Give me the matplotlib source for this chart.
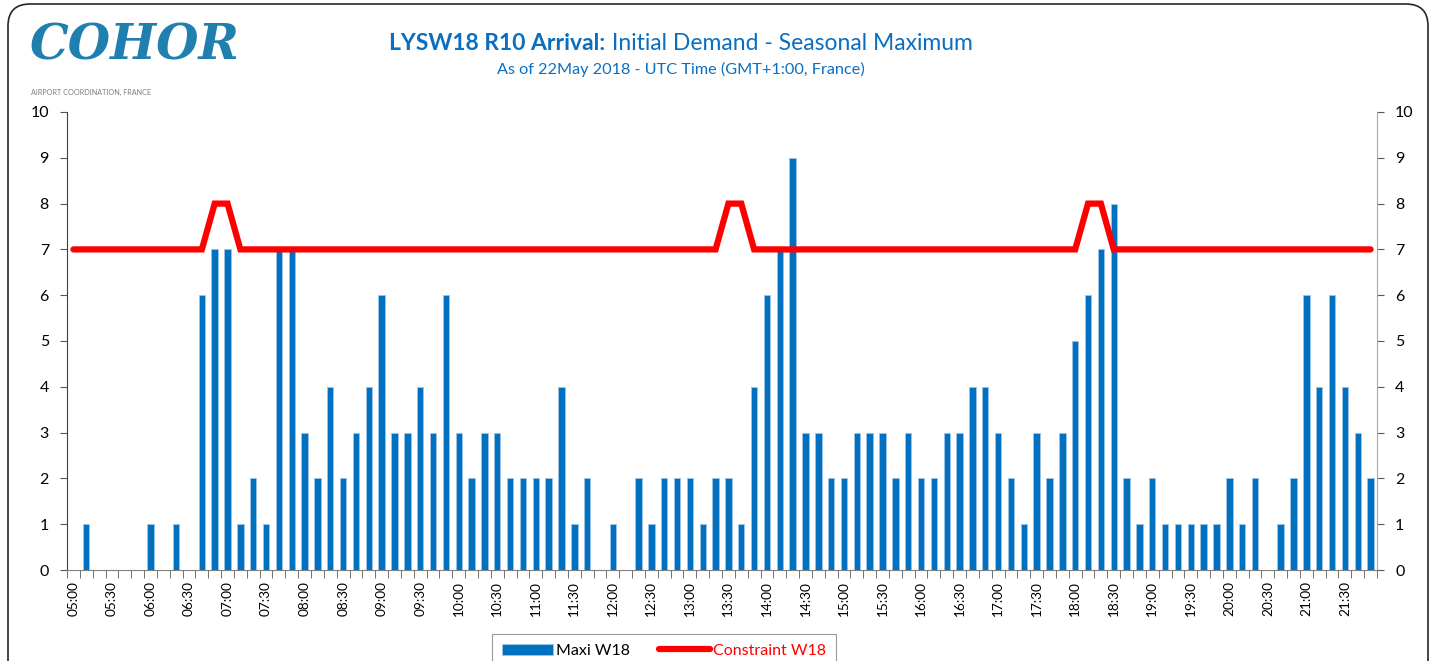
import numpy as np
import matplotlib
matplotlib.use('Agg')
import matplotlib.pyplot as plt
from matplotlib.patches import FancyBboxPatch
from matplotlib.transforms import IdentityTransform

plt.rcParams['font.family'] = ['Lato', 'DejaVu Sans']

# 10-minute slots 05:00 .. 21:50
slots = ['%02d:%02d' % (h, m) for h in range(5, 22) for m in range(0, 60, 10)]

maxi_w18 = [0, 1, 0, 0, 0, 0, 1, 0, 1, 0,
            6, 7, 7, 1, 2, 1, 7, 7, 3, 2,
            4, 2, 3, 4, 6, 3, 3, 4, 3, 6,
            3, 2, 3, 3, 2, 2, 2, 2, 4, 1,
            2, 0, 1, 0, 2, 1, 2, 2, 2, 1,
            2, 2, 1, 4, 6, 7, 9, 3, 3, 2,
            2, 3, 3, 3, 2, 3, 2, 2, 3, 3,
            4, 4, 3, 2, 1, 3, 2, 3, 5, 6,
            7, 8, 2, 1, 2, 1, 1, 1, 1, 1,
            2, 1, 2, 0, 1, 2, 6, 4, 6, 4,
            3, 2]

constraint_w18 = [7] * 102
for i in [11, 12, 51, 52, 79, 80]:
    constraint_w18[i] = 8

blue = '#0070C0'
title_blue = '#0B6FC1'

fig = plt.figure(figsize=(14.3, 6.61), dpi=100)
ax = fig.add_axes([67 / 1430, 1 - 570 / 661, 1310 / 1430, 458 / 661])

x = np.arange(len(slots))
bars = ax.bar(x, maxi_w18, width=0.5, color=blue, edgecolor='#9DC3E6', linewidth=0.6,
              label='Maxi W18', zorder=2)
line, = ax.plot(x, constraint_w18, color='#FF0000', lw=4.5, solid_capstyle='round',
                solid_joinstyle='miter', label='Constraint W18', zorder=3)

ax.set_xlim(-0.5, len(slots) - 0.5)
ax.set_ylim(0, 10)
ax.set_yticks(range(0, 11))
ax.tick_params(axis='y', which='both', left=True, right=True, labelleft=True,
               labelright=True, direction='out', length=5, labelsize=11.5,
               color='#595959', pad=8)

ax.set_xticks(x[::3])
ax.set_xticklabels(slots[::3], rotation=90, fontsize=9.8)
ax.set_xticks(np.arange(-0.5, len(slots), 1), minor=True)
ax.tick_params(axis='x', which='major', length=0, pad=8)
ax.tick_params(axis='x', which='minor', length=6, direction='out', color='#595959')

ax.spines['top'].set_visible(False)
ax.spines['left'].set_color('#404040')
ax.spines['right'].set_color('#A6A6A6')
ax.spines['bottom'].set_color('#808080')

# legend
leg = fig.legend([bars, line], ['Maxi W18', 'Constraint W18'],
                 loc='upper center', bbox_to_anchor=(664 / 1430, 1 - 626 / 661),
                 ncol=2, fontsize=11.5, frameon=True, fancybox=False,
                 edgecolor='#808080', handlelength=3.2, handletextpad=0.2,
                 columnspacing=1.8, borderpad=0.6)
leg.get_frame().set_linewidth(0.8)
leg.get_texts()[1].set_color('#FF0000')

# title: bold part + regular part, centred together
t1 = fig.text(0, 1 - 44 / 661, 'LYSW18 R10 Arrival:', fontsize=16.5,
              fontweight='bold', color=title_blue, va='center', ha='left')
t2 = fig.text(0, 1 - 44 / 661, ' Initial Demand - Seasonal Maximum',
              fontsize=16.5, color=title_blue, va='center', ha='left')
fig.canvas.draw()
r = fig.canvas.get_renderer()
w1 = t1.get_window_extent(r).width
w2 = t2.get_window_extent(r).width
start = 681 - (w1 + w2) / 2
t1.set_x(start / 1430)
t2.set_x((start + w1) / 1430)

fig.text(681 / 1430, 1 - 69 / 661, 'As of 22May 2018 - UTC Time (GMT+1:00, France)',
         fontsize=11.7, color=title_blue, ha='center', va='center')

# logo
fig.text(30 / 1430, 1 - 46 / 661, 'COHOR', fontsize=35, fontweight='bold',
         fontstyle='italic', family='DejaVu Serif', color='#1F7FAE',
         ha='left', va='center')
fig.text(31 / 1430, 1 - 92 / 661, 'AIRPORT COORDINATION, FRANCE', fontsize=5.2,
         color='#7F7F7F', ha='left', va='center')

# rounded chart frame
frame = FancyBboxPatch((8, -60), 1420, 657 + 60, boxstyle='round,pad=0,rounding_size=22',
                       transform=IdentityTransform(), facecolor='none',
                       edgecolor='#262626', linewidth=1.2)
fig.patches.append(frame)

fig.savefig('out.png', dpi=100)
